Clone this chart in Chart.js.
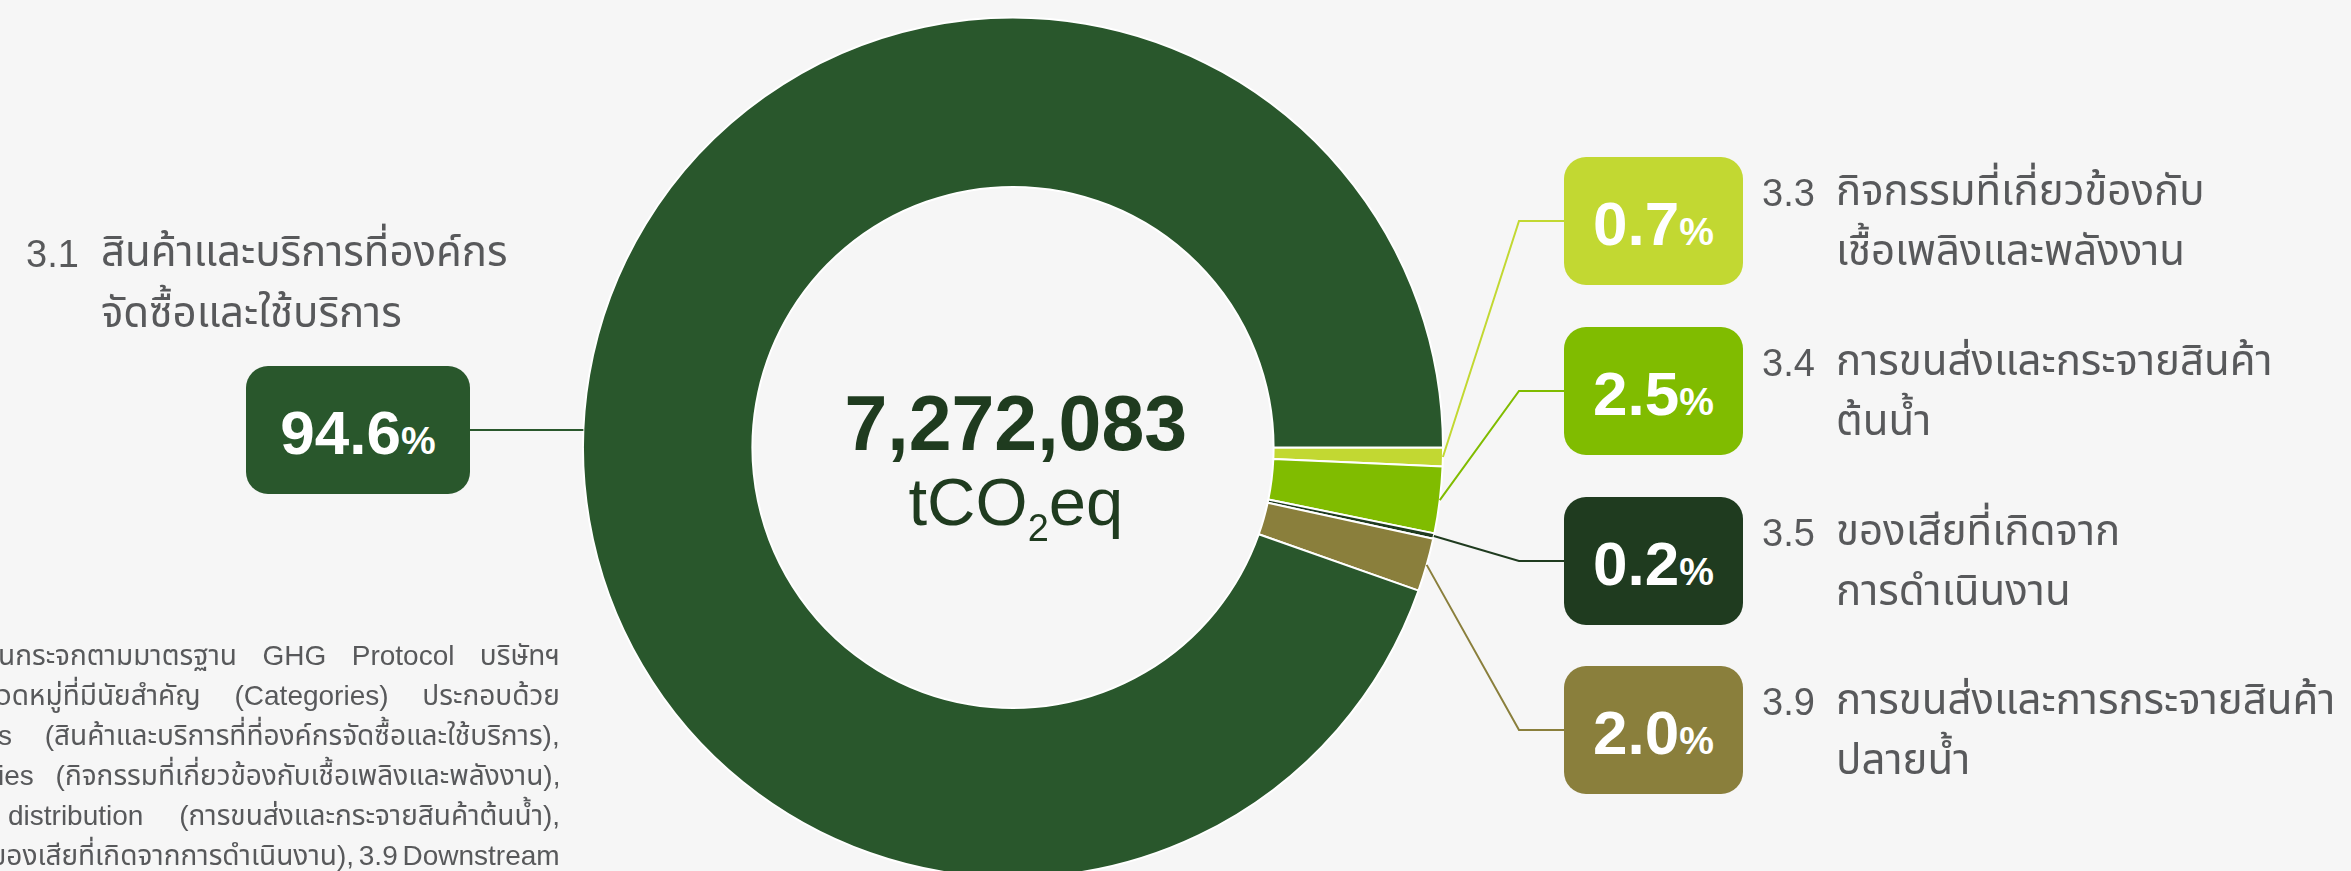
<!DOCTYPE html>
<html lang="th">
<head>
<meta charset="utf-8">
<title>Scope 3 emissions</title>
<script src="https://cdn.jsdelivr.net/npm/chart.js@4.4.1/dist/chart.umd.min.js"></script>
<style>
  html, body { margin: 0; padding: 0; background: #f6f6f6; overflow: hidden; }
  #page { position: relative; width: 2351px; height: 871px; overflow: hidden;
          font-family: "Liberation Sans", "Noto Sans Thai", "Noto Sans", Arial, sans-serif; }
  #chartBox { position: absolute; left: 0; top: 0; width: 2351px; height: 871px; }
  .box { position: absolute; border-radius: 22px; color: #fff; font-weight: bold;
         text-align: center; box-sizing: border-box; }
  .box span.n { font-size: 62px; }
  .box span.p { font-size: 39px; }
  .t { position: absolute; white-space: nowrap; line-height: 1; color: #58595b; }
  .center { color: #1f3b1f; text-align: center; }
</style>
</head>
<body>
<div id="page">
  <div id="chartBox"><canvas id="grafica"></canvas></div>
</div>
<script>
    // Datos (orden de las porciones, a partir de las 3 en punto en sentido horario)
    var codigos = ['3.3', '3.4', '3.5', '3.9', '3.1'];
    var nombres = [
        ['กิจกรรมที่เกี่ยวข้องกับ', 'เชื้อเพลิงและพลังงาน'],
        ['การขนส่งและกระจายสินค้า', 'ต้นน้ำ'],
        ['ของเสียที่เกิดจาก', 'การดำเนินงาน'],
        ['การขนส่งและการกระจายสินค้า', 'ปลายน้ำ'],
        ['สินค้าและบริการที่องค์กร', 'จัดซื้อและใช้บริการ']
    ];
    var porcentajes = [0.7, 2.5, 0.2, 2.0, 94.6];
    var colores = ['#c2d832', '#80bc00', '#1f3b1f', '#8a7f3c', '#29572c'];
    var total = 7272083;
    var unidad = ['tCO', '2', 'eq'];
    var nota = [
        'นกระจกตามมาตรฐาน GHG Protocol บริษัทฯ',
        'วดหมู่ที่มีนัยสำคัญ (Categories) ประกอบด้วย',
        's (สินค้าและบริการที่ที่องค์กรจัดซื้อและใช้บริการ),',
        'ies (กิจกรรมที่เกี่ยวข้องกับเชื้อเพลิงและพลังงาน),',
        'distribution (การขนส่งและกระจายสินค้าต้นน้ำ),',
        'ของเสียที่เกิดจากการดำเนินงาน), 3.9 Downstream'
    ];

    // Disposición de las cajas
    var cajaDer = { left: 1564, width: 179, height: 128, tops: [157, 327, 497, 666], codoX: 1519 };
    var cajaIzq = { left: 246, top: 366, width: 224, height: 128 };

    var page = document.getElementById('page');

    // Texto con línea base en y (Liberation Sans, line-height 1)
    function texto(str, x, base, size, extra) {
        var el = document.createElement('div');
        el.className = 't' + (extra ? ' ' + extra : '');
        el.style.fontSize = size + 'px';
        el.style.left = x + 'px';
        el.style.top = (base - 0.8465 * size) + 'px';
        el.textContent = str;
        page.appendChild(el);
        return el;
    }

    function caja(i, left, top, width, height) {
        var el = document.createElement('div');
        el.className = 'box';
        el.style.left = left + 'px';
        el.style.top = top + 'px';
        el.style.width = width + 'px';
        el.style.height = height + 'px';
        el.style.background = colores[i];
        el.style.lineHeight = height + 'px';
        el.style.paddingTop = '3px';
        el.innerHTML = '<span class="n">' + porcentajes[i].toFixed(1) + '</span><span class="p">%</span>';
        page.appendChild(el);
    }

    // Líneas de conexión entre porciones y cajas
    var conectores = {
        id: 'conectores',
        afterDatasetsDraw: function (chart) {
            var ctx = chart.ctx;
            var arcos = chart.getDatasetMeta(0).data;
            ctx.save();
            ctx.lineWidth = 2;
            arcos.forEach(function (arco, i) {
                var p = arco.getProps(['x', 'y', 'startAngle', 'endAngle', 'outerRadius']);
                ctx.strokeStyle = colores[i];
                ctx.beginPath();
                if (i < 4) {
                    var medio = (p.startAngle + p.endAngle) / 2;
                    var yCaja = cajaDer.tops[i] + cajaDer.height / 2;
                    ctx.moveTo(p.x + Math.cos(medio) * p.outerRadius, p.y + Math.sin(medio) * p.outerRadius);
                    ctx.lineTo(cajaDer.codoX, yCaja);
                    ctx.lineTo(cajaDer.left + 4, yCaja);
                } else {
                    var yC = cajaIzq.top + cajaIzq.height / 2;
                    var dy = yC - p.y;
                    ctx.moveTo(cajaIzq.left + cajaIzq.width - 4, yC);
                    ctx.lineTo(p.x - Math.sqrt(p.outerRadius * p.outerRadius - dy * dy), yC);
                }
                ctx.stroke();
            });
            ctx.restore();
        }
    };

    var grafica = new Chart(document.getElementById('grafica').getContext('2d'), {
        type: 'doughnut',
        data: {
            labels: codigos,
            datasets: [{
                data: porcentajes,
                backgroundColor: colores,
                borderColor: '#ffffff',
                borderWidth: 2
            }]
        },
        options: {
            responsive: true,
            maintainAspectRatio: false,
            animation: false,
            events: [],
            rotation: 90,
            radius: 430,
            cutout: '60.6%',
            layout: { padding: { left: 583, right: 908, top: 24, bottom: 0 } },
            plugins: { legend: { display: false }, tooltip: { enabled: false } }
        },
        plugins: [conectores]
    });

    // Cajas de porcentaje y nombres de categoría
    for (var i = 0; i < 4; i++) {
        caja(i, cajaDer.left, cajaDer.tops[i], cajaDer.width, cajaDer.height);
        texto(codigos[i], 1762, cajaDer.tops[i] + 49, 38);
        texto(nombres[i][0], 1836, cajaDer.tops[i] + 49, 42);
        texto(nombres[i][1], 1836, cajaDer.tops[i] + 109, 42);
    }
    caja(4, cajaIzq.left, cajaIzq.top, cajaIzq.width, cajaIzq.height);
    texto(codigos[4], 26, 267, 38);
    texto(nombres[4][0], 101, 267, 42);
    texto(nombres[4][1], 101, 328, 42);

    // Total en el centro
    var centro = grafica.getDatasetMeta(0).data[0];
    var tot = texto(total.toLocaleString('en-US'), 0, 450, 77, 'center');
    tot.style.fontWeight = 'bold';
    tot.style.left = (centro.x + 3 - tot.offsetWidth / 2) + 'px';
    var uni = texto('', 0, 525, 67, 'center');
    uni.innerHTML = unidad[0] + '<span style="font-size:38px;vertical-align:-16px">' + unidad[1] + '</span>' + unidad[2];
    uni.style.left = (centro.x + 3 - uni.offsetWidth / 2) + 'px';

    // Nota al pie (recortada a la izquierda, justificada a la derecha en x=560)
    nota.forEach(function (linea, k) {
        var el = texto(linea, 0, 666 + 40 * k, 28);
        var izq = (k === 4) ? 8 : -2;
        var espacios = linea.split(' ').length - 1;
        var extra = (560 - izq) - el.offsetWidth;
        if (espacios > 0) el.style.wordSpacing = Math.max(extra / espacios, -3) + 'px';
        el.style.left = (560 - el.offsetWidth) + 'px';
    });
</script>
</body>
</html>
